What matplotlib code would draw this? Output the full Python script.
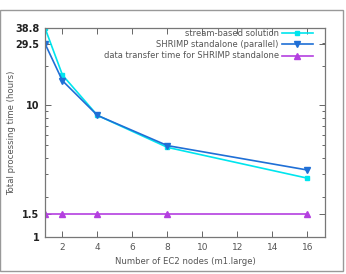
import numpy as np
import matplotlib
matplotlib.use('Agg')
import matplotlib.pyplot as plt
from matplotlib.patches import Rectangle
from matplotlib.ticker import FixedLocator, NullFormatter

# data
nodes = [1, 2, 4, 8, 16]
stream_based = [38.8, 17.0, 8.4, 4.8, 2.8]
shrimp_parallel = [29.5, 15.4, 8.4, 4.95, 3.23]
transfer_time = [1.5, 1.5, 1.5, 1.5, 1.5]

y_ticks = [1, 1.5, 10, 29.5, 38.8]
y_minor = [2, 3, 4, 5, 6, 7, 8, 9, 20, 30]
x_ticks = [2, 4, 6, 8, 10, 12, 14, 16]

grey = '#555555'

fig = plt.figure(figsize=(3.46, 2.74), dpi=100)
ax = fig.add_axes([0.130, 0.135, 0.809, 0.763])

ax.plot(nodes, stream_based, color='#00e5ee', marker='s', markersize=3.2,
        linewidth=1.2, label='stream-based solution')
ax.plot(nodes, shrimp_parallel, color='#1f6fd6', marker='v', markersize=3.8,
        linewidth=1.2, label='SHRIMP standalone (parallel)')
ax.plot(nodes, transfer_time, color='#b43fe0', marker='^', markersize=3.8,
        linewidth=1.2, label='data transfer time for SHRIMP standalone')

ax.set_yscale('log')
ax.set_xlim(1, 17)
ax.set_ylim(1, 38.8)

ax.yaxis.set_major_locator(FixedLocator(y_ticks))
ax.set_yticklabels([str(v) for v in y_ticks], fontsize=7, fontweight='bold',
                   color='#222222')
ax.yaxis.set_minor_locator(FixedLocator(y_minor))
ax.yaxis.set_minor_formatter(NullFormatter())
ax.set_xticks(x_ticks)
ax.set_xticklabels([str(v) for v in x_ticks], fontsize=6.5, color=grey)

ax.tick_params(which='both', direction='in', top=True, right=True,
               color='#666666', pad=4)
ax.tick_params(which='major', length=4, width=0.7)
ax.tick_params(which='minor', length=2.5, width=0.7)
for s in ax.spines.values():
    s.set_color('#777777')
    s.set_linewidth(0.9)

ax.set_xlabel('Number of EC2 nodes (m1.large)', fontsize=6.1, color=grey,
              labelpad=4)
ax.set_ylabel('Total processing time (hours)', fontsize=6.1, color=grey)
ax.yaxis.set_label_coords(-0.105, 0.5)

leg = ax.legend(loc='upper right', bbox_to_anchor=(0.957, 0.995),
                markerfirst=False, frameon=False, fontsize=6.0,
                handlelength=3.7, labelspacing=0.27, borderpad=0.0,
                borderaxespad=0.0, handletextpad=0.4)
for t in leg.get_texts():
    t.set_color(grey)

# outer frame around the picture
fig.patches.append(Rectangle((0.0, 0.011), 0.991, 0.953,
                             transform=fig.transFigure, fill=False,
                             edgecolor='#999999', linewidth=1.0))

fig.savefig('out.png', dpi=100)
